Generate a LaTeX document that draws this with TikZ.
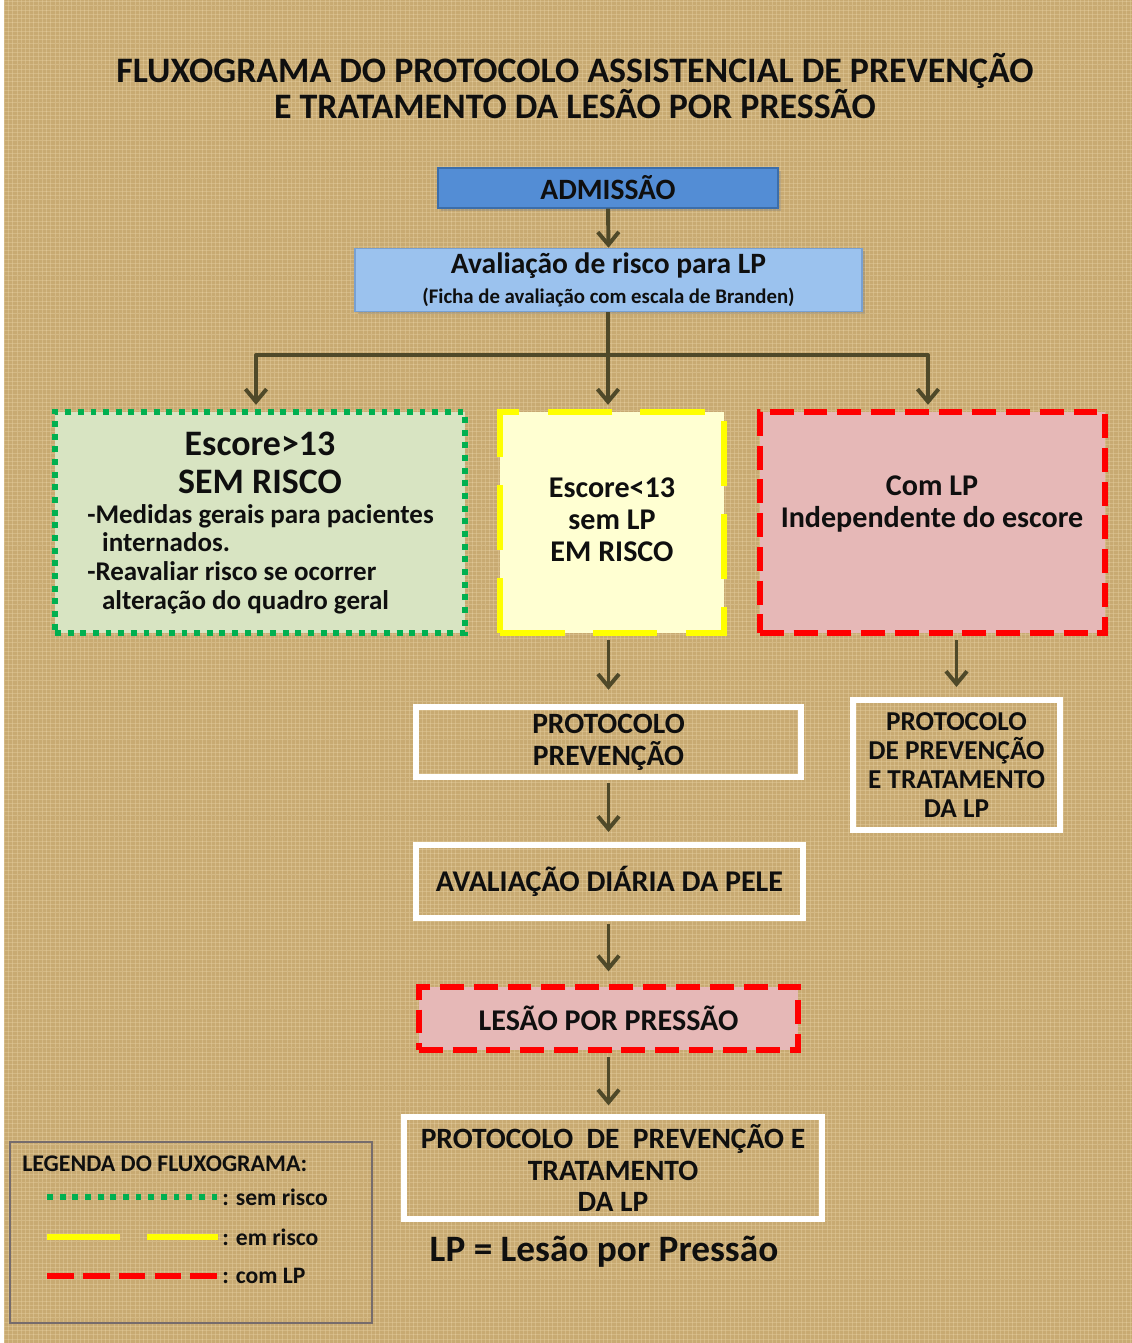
\documentclass[tikz,border=0pt]{standalone}
\usepackage{fontspec}
\setmainfont{Carlito}
\usetikzlibrary{arrows.meta,shadows,patterns}
\newcommand{\fsz}[2]{\fontsize{#1}{#2}\selectfont}
\definecolor{bgtan}{RGB}{200,170,114}
\definecolor{bglight}{RGB}{228,205,158}
\definecolor{admblue}{RGB}{83,141,213}
\definecolor{admborder}{RGB}{60,110,170}
\definecolor{avalblue}{RGB}{155,194,238}
\definecolor{avalborder}{RGB}{120,160,210}
\definecolor{greenfill}{RGB}{216,228,194}
\definecolor{greenline}{RGB}{0,176,80}
\definecolor{yellowfill}{RGB}{255,255,210}
\definecolor{yellowline}{RGB}{255,255,0}
\definecolor{redfill}{RGB}{230,184,183}
\definecolor{redline}{RGB}{255,0,0}
\definecolor{arrowc}{RGB}{79,73,41}
\definecolor{legline}{RGB}{118,108,108}
\definecolor{txt}{RGB}{15,15,15}
\tikzset{
  txtnode/.style={text=txt, font=\bfseries, align=center, inner sep=0pt},
  solidbox/.style={rectangle, line width=1pt, drop shadow={opacity=0.35, shadow xshift=2pt, shadow yshift=-2pt}},
  greenbox/.style={rectangle, fill=greenfill, draw=greenline, line width=4.2pt, dash pattern=on 4.2pt off 4.8pt},
  yellowbox/.style={rectangle, fill=yellowfill, draw=yellowline, line width=4.2pt, dash pattern=on 46pt off 20pt},
  redbox/.style={rectangle, fill=redfill, draw=redline, line width=4.2pt, dash pattern=on 17pt off 7pt},
  whitebox/.style={rectangle, draw=white, line width=4.5pt},
  arr/.style={draw=arrowc, line width=2.8pt, -{Straight Barb[length=9pt,width=15pt]}},
  conn/.style={draw=arrowc, line width=2.8pt},
}
\begin{document}
\begin{tikzpicture}[x=0.025cm,y=-0.025cm]
\useasboundingbox (0,0) rectangle (1132,1343);
\fill[bgtan] (0,0) rectangle (1132,1343);
\fill[pattern=grid, pattern color=bglight, opacity=0.45] (0,0) rectangle (1132,1343);
\fill[white] (0,0) rectangle (4,1343);

% title
\node[txtnode, font=\bfseries\fsz{25.5}{25.6}] (title) at (575,86)
  {FLUXOGRAMA DO PROTOCOLO ASSISTENCIAL DE PREVENÇÃO\\E TRATAMENTO DA LESÃO POR PRESSÃO};

% top boxes
\node[solidbox, fill=admblue, draw=admborder, minimum width=8.5cm, minimum height=1cm,
      text=txt, font=\bfseries\fsz{21}{22}] (adm) at (608,188) {ADMISSÃO};
\node[solidbox, fill=avalblue, draw=avalborder, minimum width=12.675cm, minimum height=1.5cm,
      text=txt, font=\bfseries\fsz{21}{22}, align=center] (aval) at (608.5,280)
  {Avaliação de risco para LP\\[-1pt]{\fsz{14.8}{16}(Ficha de avaliação com escala de Branden)}};

% three category boxes
\node[greenbox, minimum width=10.25cm, minimum height=5.525cm] (green) at (260,522.5) {};
\node[yellowbox, minimum width=5.6cm, minimum height=5.525cm] (yellow) at (612,522.5) {};
\node[redbox, minimum width=8.625cm, minimum height=5.525cm] (red) at (932.5,522.5) {};

\node[txtnode, font=\bfseries\fsz{25.5}{27}] (greenhead) at (260,463) {Escore>13\\SEM RISCO};
\node[txtnode, font=\bfseries\fsz{19.2}{20.4}, align=left, anchor=west] (greentext) at (87,559)
  {-Medidas gerais para pacientes\\\hspace{0.55em}internados.\\-Reavaliar risco se ocorrer\\\hspace{0.55em}alteração do quadro geral};
\node[txtnode, font=\bfseries\fsz{21.4}{22.8}] (yellowtext) at (612,520) {Escore<13\\sem LP\\EM RISCO};
\node[txtnode, font=\bfseries\fsz{21.4}{22.8}] (redtext) at (932,504) {Com LP\\Independente do escore};

% protocol boxes
\node[whitebox, minimum width=9.625cm, minimum height=1.75cm, text=txt,
      font=\bfseries\fsz{21}{22.8}, align=center] (prot1) at (608.5,742) {PROTOCOLO\\PREVENÇÃO};
\node[whitebox, minimum width=5.175cm, minimum height=3.25cm, text=txt,
      font=\bfseries\fsz{19.4}{20.6}, align=center] (prot2) at (956.5,765)
  {PROTOCOLO\\DE PREVENÇÃO\\E TRATAMENTO\\DA LP};
\node[whitebox, minimum width=9.675cm, minimum height=1.825cm, text=txt,
      font=\bfseries\fsz{21.4}{22}] (aval2) at (609.5,881.5) {AVALIAÇÃO DIÁRIA DA PELE};
\node[redbox, minimum width=9.475cm, minimum height=1.575cm, text=txt,
      font=\bfseries\fsz{21.4}{22}] (lesao) at (608.5,1018.5) {LESÃO POR PRESSÃO};
\node[whitebox, minimum width=10.45cm, minimum height=2.55cm, text=txt,
      font=\bfseries\fsz{21}{22.4}, align=center] (prot3) at (613,1168)
  {PROTOCOLO\ \ DE\ \ PREVENÇÃO E\\TRATAMENTO\\DA LP};

\node[txtnode, font=\bfseries\fsz{26.5}{28}] (lpdef) at (604,1252) {LP = Lesão por Pressão};

% connectors
\coordinate (br) at (608,355);
\coordinate (brL) at (256,355);
\coordinate (brR) at (928,355);
\draw[arr] (adm.south) -- (aval.north);
\draw[conn] (aval.south -| br) -- (br);
\draw[conn, line cap=round] (brL) -- (brR);
\draw[arr, shorten >=3pt] (brL) -- (brL |- green.north);
\draw[arr, shorten >=3pt] (br) -- (br |- yellow.north);
\draw[arr, shorten >=3pt] (brR) -- (brR |- red.north);
\draw[arr, shorten <=3pt, shorten >=10pt] (yellow.south -| prot1.north) -- (prot1.north);
\draw[arr, shorten <=3pt, shorten >=7pt] (red.south -| prot2.north) -- (prot2.north);
\draw[arr, shorten <=2pt, shorten >=7pt] (prot1.south) -- (prot1.south |- aval2.north);
\draw[arr, shorten <=2pt, shorten >=9pt] (aval2.south -| lesao.north) -- (lesao.north);
\draw[arr, shorten <=3pt, shorten >=6pt] (lesao.south) -- (lesao.south |- prot3.north);

% legend
\node[rectangle, draw=legline, line width=1.6pt, minimum width=9.05cm, minimum height=4.525cm] (legend) at (191,1232.5) {};
\node[txtnode, font=\bfseries\fsz{17}{18}, anchor=west] (legtitle) at (22,1164) {LEGENDA DO FLUXOGRAMA:};
\draw[greenline, line width=4.2pt, dash pattern=on 4.2pt off 4.8pt] (47,1197) -- (220,1197);
\draw[yellowline, line width=4.2pt, dash pattern=on 52pt off 19pt] (47,1237) -- (218,1237);
\draw[redline, line width=4.2pt, dash pattern=on 19pt off 6.5pt] (47,1276) -- (218,1276);
\node[txtnode, font=\bfseries\fsz{16.8}{18}, anchor=west] (leg1) at (222,1197) {: sem risco};
\node[txtnode, font=\bfseries\fsz{16.8}{18}, anchor=west] (leg2) at (222,1237) {: em risco};
\node[txtnode, font=\bfseries\fsz{16.8}{18}, anchor=west] (leg3) at (222,1276) {: com LP};
\end{tikzpicture}
\end{document}
